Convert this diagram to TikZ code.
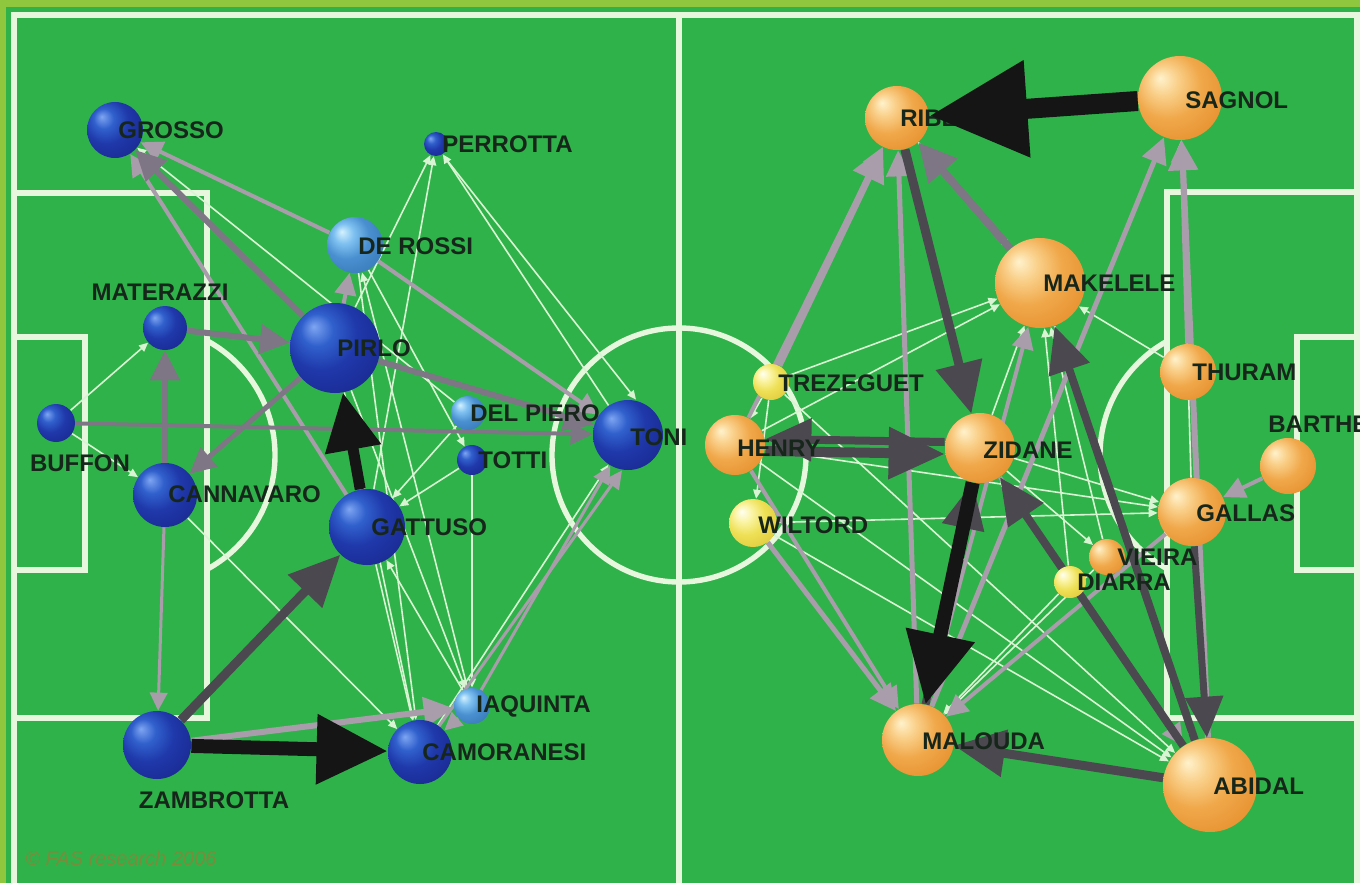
\documentclass[tikz,border=0pt]{standalone}
\usepackage{fontspec}
\setmainfont{Liberation Sans}
\usetikzlibrary{arrows.meta}
\pgfdeclarelayer{bg}
\pgfdeclarelayer{edges}
\pgfsetlayers{bg,edges,main}
\definecolor{fieldg}{HTML}{30B24A}
\definecolor{rimg}{HTML}{8FC83E}
\definecolor{linew}{HTML}{E6F7DE}
\definecolor{eblack}{HTML}{151515}
\definecolor{edark}{HTML}{4B4850}
\definecolor{emid}{HTML}{7E7684}
\definecolor{elight}{HTML}{A99CAB}
\definecolor{ethin}{HTML}{D8F4D2}
\definecolor{txt}{HTML}{17261B}
\definecolor{copyc}{HTML}{7A8C3C}
% sphere colours
\definecolor{oA}{HTML}{FFF2CC}\definecolor{oB}{HTML}{F9CF88}\definecolor{oC}{HTML}{F0A84A}\definecolor{oD}{HTML}{E68E2C}\definecolor{oE}{HTML}{D06E16}
\definecolor{bA}{HTML}{7FA6F2}\definecolor{bB}{HTML}{3060CC}\definecolor{bC}{HTML}{1F38AA}\definecolor{bD}{HTML}{1A2890}\definecolor{bE}{HTML}{141A66}
\definecolor{cA}{HTML}{D4F2FF}\definecolor{cB}{HTML}{7EC0F0}\definecolor{cC}{HTML}{4A90D0}\definecolor{cD}{HTML}{3878B8}\definecolor{cE}{HTML}{2A5A90}
\definecolor{yA}{HTML}{FFFFF2}\definecolor{yB}{HTML}{FAF4A4}\definecolor{yC}{HTML}{EEE056}\definecolor{yD}{HTML}{E0C83A}\definecolor{yE}{HTML}{C8A82A}
\pgfdeclareradialshading{oball}{\pgfqpoint{-12bp}{12bp}}{color(0bp)=(oA); color(9bp)=(oB); color(20bp)=(oC); color(36bp)=(oD); color(56bp)=(oE)}
\pgfdeclareradialshading{bball}{\pgfqpoint{-12bp}{12bp}}{color(0bp)=(bA); color(9bp)=(bB); color(20bp)=(bC); color(36bp)=(bD); color(56bp)=(bE)}
\pgfdeclareradialshading{cball}{\pgfqpoint{-12bp}{12bp}}{color(0bp)=(cA); color(9bp)=(cB); color(20bp)=(cC); color(36bp)=(cD); color(56bp)=(cE)}
\pgfdeclareradialshading{yball}{\pgfqpoint{-12bp}{12bp}}{color(0bp)=(yA); color(9bp)=(yB); color(20bp)=(yC); color(36bp)=(yD); color(56bp)=(yE)}
\begin{document}
\begin{tikzpicture}[x=0.5pt,y=-0.5pt,
  pitch/.style={draw=linew,line width=2.7pt},
  bb/.style={circle,inner sep=0pt,shading=bball,minimum size=#1pt},
  lb/.style={circle,inner sep=0pt,shading=cball,minimum size=#1pt},
  ob/.style={circle,inner sep=0pt,shading=oball,minimum size=#1pt},
  yb/.style={circle,inner sep=0pt,shading=yball,minimum size=#1pt},
  lbl/.style={anchor=west,inner sep=0pt,text=txt,font=\fontsize{12}{14}\selectfont\bfseries},
  lblc/.style={anchor=center,inner sep=0pt,text=txt,font=\fontsize{12}{14}\selectfont\bfseries},
  eK/.style={draw=eblack,line width=#1pt,-{Triangle[length=4pt 4.5,width=4pt 4.2]}},
  eD/.style={draw=edark,line width=#1pt,-{Triangle[length=3pt 5,width=3pt 4.4]}},
  eM/.style={draw=emid,line width=#1pt,-{Triangle[length=3pt 4,width=3pt 3.8]}},
  eL/.style={draw=elight,line width=#1pt,-{Triangle[length=3pt 4,width=3pt 3.8]}},
  eT/.style={draw=ethin,line width=0.8pt,-{Triangle[length=4.5pt,width=4pt]}}
]
\useasboundingbox (0,0) rectangle (1360,883);
\clip (0,0) rectangle (1360,883);
% ---------------- pitch ----------------
\begin{pgfonlayer}{bg}
\fill[fieldg] (0,0) rectangle (1360,883);
\fill[rimg] (0,0) rectangle (1360,7);
\fill[rimg] (0,0) rectangle (6,883);
\draw[pitch] (14,890) -- (14,15) -- (1357,15) -- (1357,890);
\draw[pitch] (679,15) -- (679,890);
\draw[pitch] (679,455) circle[radius=127];
\draw[pitch] (14,193) -- (207,193) -- (207,718) -- (14,718);
\draw[pitch] (14,337) -- (85,337) -- (85,570) -- (14,570);
\draw[pitch] (1357,192) -- (1167,192) -- (1167,718) -- (1357,718);
\draw[pitch] (1357,337) -- (1297,337) -- (1297,570) -- (1357,570);
\begin{scope}
\clip (207,0) rectangle (400,883);
\draw[pitch] (145,455) circle[radius=130];
\end{scope}
\begin{scope}
\clip (900,0) rectangle (1167,883);
\draw[pitch] (1230,455) circle[radius=130];
\end{scope}
\end{pgfonlayer}
% ---------------- Italy nodes ----------------
\node[bb=28] (gro) at (115,130) {};
\node[bb=12] (per) at (436,144) {};
\node[lb=28] (der) at (355,245) {};
\node[bb=22] (mat) at (165,328) {};
\node[bb=45] (pir) at (335,348) {};
\node[bb=19] (buf) at (56,423) {};
\node[lb=17] (del) at (468,413) {};
\node[bb=15] (tot) at (472,460) {};
\node[bb=35] (ton) at (628,435) {};
\node[bb=32] (can) at (165,495) {};
\node[bb=38] (gat) at (367,527) {};
\node[lb=18] (iaq) at (472,706) {};
\node[bb=34] (zam) at (157,745) {};
\node[bb=32] (cam) at (420,752) {};
% ---------------- France nodes ----------------
\node[ob=32] (rib) at (897,118) {};
\node[ob=42] (sag) at (1180,98) {};
\node[ob=45] (mak) at (1040,283) {};
\node[ob=28] (thu) at (1188,372) {};
\node[ob=28] (bar) at (1288,466) {};
\node[yb=18] (tre) at (771,382) {};
\node[ob=30] (hen) at (735,445) {};
\node[ob=35] (zid) at (980,448) {};
\node[yb=24] (wil) at (753,523) {};
\node[ob=34] (gal) at (1192,512) {};
\node[ob=18] (vie) at (1107,557) {};
\node[yb=16] (dia) at (1070,582) {};
\node[ob=36] (mal) at (918,740) {};
\node[ob=47] (abi) at (1210,785) {};
% ---------------- edges ----------------
\begin{pgfonlayer}{edges}
% Italy thin
\draw[eT] (buf) -- (mat);
\draw[eT] (buf) -- (can);
\draw[eT] (can) -- (cam);
\draw[eT] (del) -- (gro);
\draw[eT] (pir) -- (per);
\draw[eT] (ton) -- (per);
\draw[eT] ([xshift=4pt]per.south) -- ([xshift=4pt]ton.north);
\draw[eT] (gat) -- (per);
\draw[eT] (der) -- (cam);
\draw[eT] (pir) -- (iaq);
\draw[eT] (pir) -- (cam);
\draw[eT] (gat) -- (cam);
\draw[eT] (iaq) -- (gat);
\draw[eT] (tot) -- (iaq);
\draw[eT] (tot) -- (gat);
\draw[eT] (del) -- (gat);
\draw[eT] (der) -- (tot);
\draw[eT] (iaq) -- (der);
\draw[eT] (cam) -- (ton);
% Italy light
\draw[eL=2] (der) -- (gro);
\draw[eL=2] (gat) -- (gro);
\draw[eL=1.5] (can) -- (zam);
\draw[eL=3] (zam) -- (iaq);
\draw[eL=2] (pir) -- (der);
\draw[eL=2] (der) -- (ton);
\draw[eL=1.5] (iaq) -- (ton);
\draw[eL=1.5] ([xshift=-3pt]cam.north east) -- ([xshift=-3pt]ton.south);
\draw[eL=1.5] (iaq) -- (cam);
% Italy mid
\draw[eM=3] (pir) -- (gro);
\draw[eM=3] (can) -- (mat);
\draw[eM=3] (mat) -- (pir);
\draw[eM=2.5] (pir) -- (can);
\draw[eM=3] (pir) -- (ton);
\draw[eM=2] (buf) -- (ton);
% Italy dark / black
\draw[eD=4.5] (zam) -- (gat);
\draw[eK=5.5] (gat) -- (pir);
\draw[eK=7] (zam) -- (cam);
% France thin
\draw[eT] (tre) -- (mak);
\draw[eT] (hen) -- (mak);
\draw[eT] (zid) -- (mak);
\draw[eT] (rib) -- (mak);
\draw[eT] (tre) -- (hen);
\draw[eT] (tre) -- (wil);
\draw[eT] (wil) -- (gal);
\draw[eT] (hen) -- (gal);
\draw[eT] (tre) -- (abi);
\draw[eT] (hen) -- (abi);
\draw[eT] (wil) -- (abi);
\draw[eT] (dia) -- (mal);
\draw[eT] (vie) -- (mal);
\draw[eT] (zid) -- (gal);
\draw[eT] (zid) -- (vie);
\draw[eT] (dia) -- (zid);
\draw[eT] (thu) -- (mak);
\draw[eT] (gal) -- (sag);
\draw[eT] (dia) -- (mak);
\draw[eT] (vie) -- (mak);
\draw[eT] (mak) -- (abi);
% France light
\draw[eL=3.5] (tre) -- (rib);
\draw[eL=2] (hen) -- (rib);
\draw[eL=2.5] (mal) -- (rib);
\draw[eL=2.5] (mal) -- (sag);
\draw[eL=3] (abi) -- (sag);
\draw[eL=2] (thu) -- (sag);
\draw[eL=2.5] (wil) -- (mal);
\draw[eL=2] (hen) -- (mal);
\draw[eL=2] (gal) -- (mal);
\draw[eL=2] (bar) -- (gal);
\draw[eL=2] (zid) -- (abi);
\draw[eL=2] (mal) -- (mak);
% France mid
\draw[eM=4] (mak) -- (rib);
% France dark / black
\draw[eD=4.5] (rib) -- (zid);
\draw[eD=4] (mal) -- (zid);
\draw[eD=5] ([yshift=-3pt]hen.east) -- ([yshift=-3pt]zid.west);
\draw[eD=4] ([yshift=3pt]zid.west) -- ([yshift=3pt]hen.east);
\draw[eD=4.5] (abi) -- (mal);
\draw[eD=4] (abi) -- (mak);
\draw[eD=4] (abi) -- (zid);
\draw[eD=3.5] (gal) -- (abi);
\draw[eK=7] (zid) -- (mal);
\end{pgfonlayer}
% ---------------- labels ----------------
\node[lbl] (l-gro) at (118,130) {GROSSO};
\node[lbl] (l-per) at (442,144) {PERROTTA};
\node[lbl] (l-der) at (358,246) {DE ROSSI};
\node[lblc] (l-mat) at (160,292) {MATERAZZI};
\node[lbl] (l-pir) at (337,348) {PIRLO};
\node[lblc] (l-buf) at (80,463) {BUFFON};
\node[lbl] (l-del) at (470,413) {DEL PIERO};
\node[lbl] (l-tot) at (478,460) {TOTTI};
\node[lbl] (l-ton) at (630,437) {TONI};
\node[lbl] (l-can) at (168,494) {CANNAVARO};
\node[lbl] (l-gat) at (371,527) {GATTUSO};
\node[lbl] (l-iaq) at (476,706) {IAQUINTA};
\node[lblc] (l-zam) at (214,800) {ZAMBROTTA};
\node[lbl] (l-cam) at (422,752) {CAMORANESI};
\node[lbl] (l-rib) at (900,118) {RIBERY};
\node[lbl] (l-sag) at (1185,100) {SAGNOL};
\node[lbl] (l-mak) at (1043,283) {MAKELELE};
\node[lbl] (l-thu) at (1192,372) {THURAM};
\node[lbl] (l-bar) at (1268,424) {BARTHEZ};
\node[lbl] (l-tre) at (778,383) {TREZEGUET};
\node[lbl] (l-hen) at (737,448) {HENRY};
\node[lbl] (l-zid) at (983,450) {ZIDANE};
\node[lbl] (l-wil) at (758,525) {WILTORD};
\node[lbl] (l-gal) at (1196,513) {GALLAS};
\node[lbl] (l-vie) at (1117,557) {VIEIRA};
\node[lbl] (l-dia) at (1077,582) {DIARRA};
\node[lbl] (l-mal) at (922,741) {MALOUDA};
\node[lbl] (l-abi) at (1213,786) {ABIDAL};
\node[anchor=west,inner sep=0pt,text=copyc,font=\fontsize{10}{12}\selectfont\itshape] (copy) at (25,858) {© FAS research 2006};
% top-most arrow
\draw[eK=10] (sag) -- (rib);
\end{tikzpicture}
\end{document}
